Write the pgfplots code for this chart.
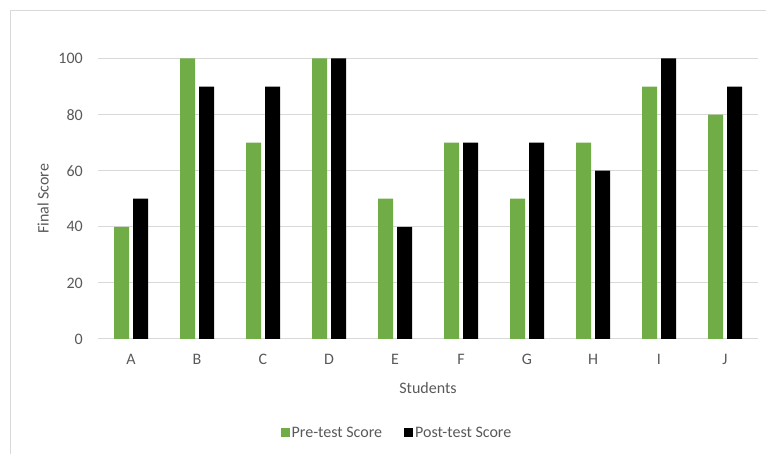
\documentclass[border=0pt]{standalone}
\usepackage{pgfplots}
\pgfplotsset{compat=1.18}
\usepackage{fontspec}
\setmainfont{Carlito}
\definecolor{exgreen}{HTML}{70AD47}
\definecolor{exgrid}{HTML}{D9D9D9}
\definecolor{extext}{HTML}{595959}
\begin{document}
\begin{tikzpicture}[x=1pt,y=1pt,font=\fontsize{16}{19}\selectfont]
\path[use as bounding box] (0,0) rectangle (766,454);
\draw[exgrid,line width=1pt] (10,0) -- (10,443) -- (766,443);
\begin{axis}[
  at={(98pt,115pt)}, anchor=south west,
  scale only axis, width=660pt, height=280.5pt,
  xmin=-0.5, xmax=9.5, ymin=0, ymax=100,
  ybar=4pt, bar width=15pt,
  xtick={0,...,9},
  xticklabels={A,B,C,D,E,F,G,H,I,J},
  ytick={0,20,40,60,80,100},
  ymajorgrids, grid style={exgrid, line width=1pt},
  axis line style={draw=none},
  major tick length=0pt, tick style={draw=none},
  /pgf/number format/assume math mode=true,
  tick label style={text=extext},
  yticklabel style={inner sep=0pt, anchor=east, xshift=-15pt},
  xticklabel style={inner sep=0pt, anchor=north, text height=10pt, yshift=-15pt},
  every axis y label/.style={at={(axis description cs:-0.0833,0.5)}, rotate=90, anchor=center, text=extext},
  every axis x label/.style={at={(axis description cs:0.5,0)}, anchor=center, yshift=-49pt, text=extext},
  ylabel={Final Score}, xlabel={Students},
  legend style={at={(axis description cs:0.453,-0.335)}, anchor=center, draw=none, fill=none,
    legend columns=2, text=extext,
    /tikz/every even column/.append style={column sep=20pt}},
  legend image code/.code={\fill[#1] (0pt,-4.5pt) rectangle (9pt,4.5pt);},
]
\addplot[fill=exgreen, draw=none] coordinates {(0,40) (1,100) (2,70) (3,100) (4,50) (5,70) (6,50) (7,70) (8,90) (9,80)};
\addplot[fill=black, draw=none] coordinates {(0,50) (1,90) (2,90) (3,100) (4,40) (5,70) (6,70) (7,60) (8,100) (9,90)};
\legend{Pre-test Score, Post-test Score}
\end{axis}
\end{tikzpicture}
\end{document}
